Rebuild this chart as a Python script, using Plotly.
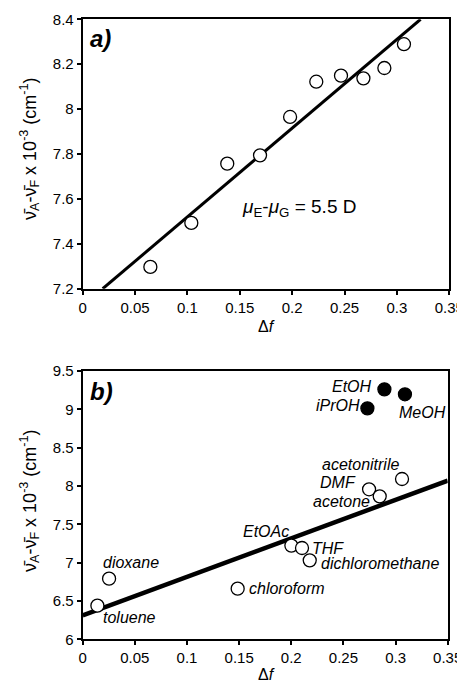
import plotly.graph_objects as go

# ---------------- data: panel a ----------------
a_df = [0.0646, 0.1037, 0.138, 0.1693, 0.198, 0.223, 0.2466, 0.268, 0.288, 0.3067]
a_shift = [7.297, 7.493, 7.757, 7.794, 7.965, 8.122, 8.149, 8.137, 8.183, 8.289]
a_fit_slope = 3.954
a_fit_intercept = 7.1245

# ---------------- data: panel b ----------------
b_solvents = ["toluene", "dioxane", "chloroform", "EtOAc", "THF", "dichloromethane",
              "DMF", "acetone", "acetonitrile"]
b_df = [0.0141, 0.0253, 0.1486, 0.2001, 0.2103, 0.2177, 0.2746, 0.2848, 0.3062]
b_shift = [6.439, 6.791, 6.661, 7.222, 7.191, 7.030, 7.957, 7.865, 8.091]
b_alcohols = ["iPrOH", "EtOH", "MeOH"]
b_alc_df = [0.273, 0.2893, 0.309]
b_alc_shift = [9.013, 9.261, 9.196]
b_fit_slope = 5.02
b_fit_intercept = 6.313

x_ticks = [0, 0.05, 0.1, 0.15, 0.2, 0.25, 0.3, 0.35]
a_y_range = [7.2, 8.4]
b_y_range = [6.0, 9.5]

FONT = "Liberation Sans, Arial, sans-serif"

# page body adds an 8px margin; size the figure to the visible area
OFF = 8
W, H = 465 - OFF, 685 - OFF


def px(x):
    return (x - OFF) / W


def py(y):
    return 1 - (y - OFF) / H


fig = go.Figure()

# panel a
fig.add_trace(go.Scatter(
    x=[(a_y_range[0] - a_fit_intercept) / a_fit_slope, (a_y_range[1] - a_fit_intercept) / a_fit_slope],
    y=a_y_range, mode="lines", line=dict(color="black", width=3),
    xaxis="x", yaxis="y", showlegend=False, hoverinfo="skip"))
fig.add_trace(go.Scatter(
    x=a_df, y=a_shift, mode="markers",
    marker=dict(size=13, color="white", line=dict(color="black", width=1.3)),
    xaxis="x", yaxis="y", showlegend=False))

# panel b
fig.add_trace(go.Scatter(
    x=[0, 0.35], y=[b_fit_intercept, b_fit_intercept + b_fit_slope * 0.35],
    mode="lines", line=dict(color="black", width=4.5),
    xaxis="x2", yaxis="y2", showlegend=False, hoverinfo="skip"))
fig.add_trace(go.Scatter(
    x=b_df, y=b_shift, mode="markers",
    marker=dict(size=13, color="white", line=dict(color="black", width=1.3)),
    xaxis="x2", yaxis="y2", showlegend=False))
fig.add_trace(go.Scatter(
    x=b_alc_df, y=b_alc_shift, mode="markers",
    marker=dict(size=13, color="black", line=dict(color="black", width=1.3)),
    xaxis="x2", yaxis="y2", showlegend=False))

axis_common = dict(
    showline=True, linecolor="black", linewidth=2, mirror=True,
    ticks="outside", ticklen=4, tickwidth=1.5, tickcolor="black",
    showgrid=False, zeroline=False, automargin=False,
    tickfont=dict(family=FONT, size=15, color="black"),
)

fig.update_layout(
    width=W, height=H,
    margin=dict(l=0, r=0, t=0, b=0, autoexpand=False),
    paper_bgcolor="white", plot_bgcolor="white",
    xaxis=dict(domain=[px(82.7), px(449.3)], anchor="y", range=[0, 0.35],
               tickvals=x_ticks, **axis_common),
    yaxis=dict(domain=[py(288.7), py(19.3)], anchor="x", range=a_y_range,
               dtick=0.2, **axis_common),
    xaxis2=dict(domain=[px(82.7), px(447.7)], anchor="y2", range=[0, 0.35],
                tickvals=x_ticks, **axis_common),
    yaxis2=dict(domain=[py(639.3), py(371)], anchor="x2", range=b_y_range,
                dtick=0.5, **axis_common),
)

ylab = "ν̄<sub>A</sub>-ν̄<sub>F</sub> x 10<sup>-3</sup> (cm<sup>-1</sup>)"
ann = []
# axis titles
for yc in [149, 501]:
    ann.append(dict(text=ylab, xref="paper", yref="paper", x=px(29), y=py(yc),
                    xanchor="center", yanchor="middle", textangle=-90, showarrow=False,
                    font=dict(family=FONT, size=18, color="black")))
for yc in [326, 674]:
    ann.append(dict(text="Δ<i>f</i>", xref="paper", yref="paper", x=px(266), y=py(yc),
                    xanchor="center", yanchor="middle", showarrow=False,
                    font=dict(family=FONT, size=16, color="black")))
# panel labels
ann.append(dict(text="<b><i>a)</i></b>", xref="paper", yref="paper", x=px(88), y=py(39),
                xanchor="left", yanchor="middle", showarrow=False,
                font=dict(family=FONT, size=24, color="black")))
ann.append(dict(text="<b><i>b)</i></b>", xref="paper", yref="paper", x=px(88), y=py(391),
                xanchor="left", yanchor="middle", showarrow=False,
                font=dict(family=FONT, size=24, color="black")))
# dipole annotation
ann.append(dict(text="<i>μ</i><sub>E</sub>-<i>μ</i><sub>G</sub> = 5.5 D", xref="paper", yref="paper",
                x=px(240), y=py(208), xanchor="left", yanchor="middle", showarrow=False,
                font=dict(family=FONT, size=19, color="black")))

# solvent labels: (anchor, xshift, yshift)
b_label_place = {
    "toluene": ("left", 4, -12),
    "dioxane": ("left", -8, 16),
    "chloroform": ("left", 9, 0),
    "EtOAc": ("right", 0, 14),
    "THF": ("left", 8, 0),
    "dichloromethane": ("left", 9, -3),
    "DMF": ("right", -11, 7),
    "acetone": ("right", -8, -5),
    "acetonitrile": ("right", -1, 15),
    "iPrOH": ("right", -5, 3),
    "EtOH": ("right", -10, 3),
    "MeOH": ("left", -8, -18),
}
for name, xv, yv in zip(b_solvents + b_alcohols, b_df + b_alc_df, b_shift + b_alc_shift):
    anc, xs, ys = b_label_place[name]
    ann.append(dict(text=f"<i>{name}</i>", xref="x2", yref="y2", x=xv, y=yv,
                    xanchor=anc, yanchor="middle", xshift=xs, yshift=ys, showarrow=False,
                    font=dict(family=FONT, size=16, color="black")))

fig.update_layout(annotations=ann)
fig.write_html("out.html")
